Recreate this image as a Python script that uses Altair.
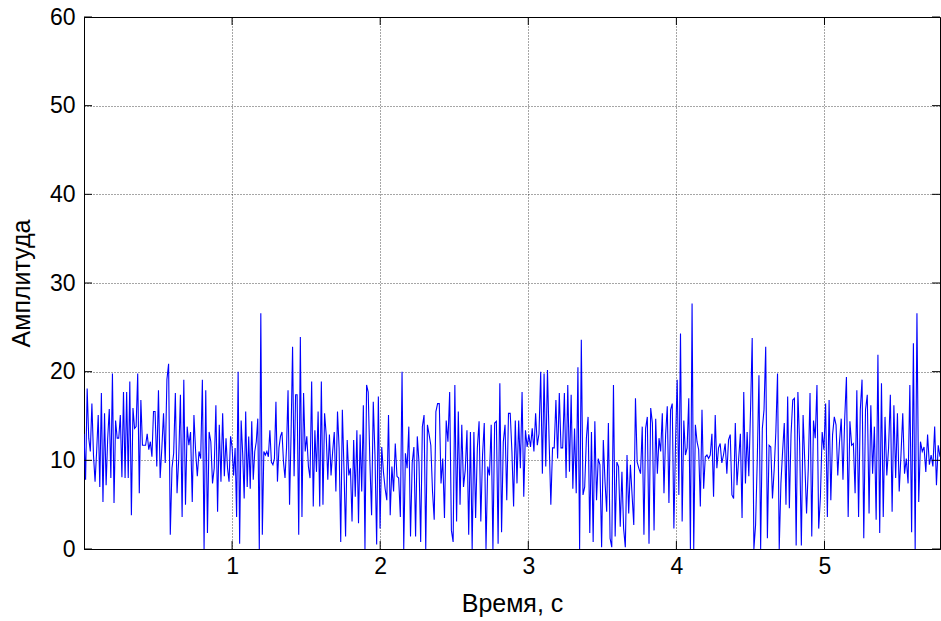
import altair as alt
import pandas as pd
import numpy as np

# Amplitude samples, in order of time (one list per stretch of the time axis)
seg1 = [13.0, 7.8, 18.1, 12.5, 11.0, 16.4, 10.6, 7.6, 11.0, 15.1, 7.0, 17.6, 5.3, 15.3, 7.2, 12.5, 15.8, 8.0,
        19.8, 5.2, 14.5, 12.5, 12.5, 15.1, 8.1, 17.7, 8.0, 17.7, 8.0, 18.9, 3.8, 15.9, 13.6, 13.8, 19.8, 6.3,
        16.8, 11.7, 11.7, 11.7, 13.0, 11.2, 12.1, 10.4, 15.5]
seg2 = [15.5, 9.3, 17.9, 8.0, 11.4, 15.3, 9.7, 19.1, 20.9, 1.6, 9.1, 10.8, 17.6, 6.3, 10.2, 17.4, 3.6, 19.1,
        5.0, 13.8, 11.7, 13.2, 5.3, 15.1, 11.0, 8.2, 11.0, 10.2, 19.1, 0.0, 17.9, 1.8, 13.2, 12.1, 7.4, 9.1,
        16.2, 4.2, 14.0, 7.6, 15.3, 8.2]
seg3 = [12.5, 9.1, 7.6, 12.7, 11.5, 8.3, 11.4, 3.6, 20.0, 0.6, 14.5, 10.8, 5.7, 15.5, 7.0, 12.7, 6.8, 14.4,
        7.8, 11.0, 12.1, 14.7, 0.0, 26.6, 1.6, 11.0, 10.6, 11.0, 10.4, 13.4, 9.8, 9.5, 10.2, 16.6, 7.6, 11.4,
        12.7, 13.2, 9.8, 8.0, 11.4, 17.9, 5.0, 12.9, 22.8, 8.2, 17.4]
seg4 = [17.4, 1.6, 23.9, 3.6, 17.6, 11.0, 12.7, 9.3, 8.0, 18.9, 4.8, 13.4, 8.7, 15.5, 4.8, 18.9, 5.0, 15.3,
        12.9, 7.8, 12.9, 8.3, 11.0, 13.2, 6.5, 15.5, 11.4, 0.8, 15.7, 9.1, 1.4, 12.3, 8.3, 9.1, 3.1, 12.3,
        5.9, 13.4, 2.9, 12.9, 6.5, 16.2, 0.0, 18.5]
seg5 = [17.7, 9.8, 3.8, 16.6, 10.6, 0.5, 17.2, 2.3, 11.5, 8.7, 6.8, 5.5, 15.1, 3.8, 9.3, 6.5, 11.9, 8.2,
        8.0, 3.6, 20.0, 0.0, 10.8, 9.1, 13.8, 1.4, 9.7, 11.5, 1.4, 12.7, 9.8, 0.8, 13.8, 15.1, 0.0, 14.0,
        12.9, 11.7, 6.5, 3.3, 15.5, 16.4]
seg6 = [16.4, 7.4, 10.2, 3.5, 14.5, 12.1, 17.7, 2.1, 0.8, 18.5, 3.1, 15.5, 5.0, 14.0, 7.0, 8.9, 13.4, 1.6,
        13.2, 0.0, 13.2, 3.5, 11.4, 14.4, 3.1, 10.6, 14.2, 0.0, 9.3, 8.3, 14.0, 0.0, 14.2, 14.4, 0.6, 18.7,
        1.9, 12.1, 14.0, 5.5, 15.3]
seg7 = [15.3, 11.0, 4.8, 14.5, 7.4, 14.5, 9.1, 17.7, 5.9, 13.4, 11.5, 12.9, 11.5, 13.6, 11.0, 15.3, 11.7,
        13.0, 20.0, 8.5, 19.8, 9.3, 20.2, 12.1, 5.0, 11.4, 11.4, 16.8, 10.2, 17.6, 11.4, 11.4, 17.6, 8.0,
        18.5, 8.7, 17.4, 6.8, 13.6, 6.3, 20.5, 0.0]
seg8 = [23.6, 6.1, 7.0, 12.5, 14.9, 1.8, 13.2, 0.8, 14.4, 5.5, 10.2, 9.5, 0.2, 12.3, 7.6, 4.2, 14.2, 1.2,
        0.2, 18.5, 1.4, 9.8, 9.3, 2.5, 8.7, 2.3, 0.2, 10.6, 4.0, 9.5, 6.1, 2.7, 17.0, 9.8, 9.1, 8.5, 13.8,
        1.6, 13.6, 14.9, 0.6, 15.9]
seg9 = [14.2, 2.1, 14.7, 8.5, 12.5, 11.0, 15.3, 6.3, 12.9, 16.1, 5.2, 15.7, 16.4, 2.3, 12.1, 19.1, 6.1,
        24.3, 3.1, 14.5, 10.6, 11.4, 17.0, 0.0, 27.7, 0.0, 14.0, 12.1, 11.2, 4.8, 15.7, 6.8, 10.4, 10.6,
        10.2, 10.6, 13.0, 5.9, 15.1, 9.1, 11.4, 11.9, 9.7]
seg10 = [10.6, 11.9, 8.5, 12.3, 12.9, 6.1, 5.7, 14.2, 7.2, 10.2, 13.0, 3.5, 17.7, 7.4, 13.2, 8.2, 15.5,
         23.8, 0.0, 2.7, 10.0, 19.6, 0.0, 13.6, 15.7, 22.8, 1.2, 11.7, 11.5, 5.7, 8.9, 13.2, 19.8, 0.0, 7.4,
         11.0, 14.2, 5.0, 17.2, 4.6, 12.9, 16.8]
seg11 = [17.0, 0.4, 17.7, 11.9, 0.4, 15.1, 9.7, 4.0, 9.1, 17.6, 1.4, 14.5, 12.5, 18.5, 2.3, 5.9, 13.2, 11.2,
         16.4, 3.6, 16.8, 5.5, 12.9, 14.9, 14.0, 8.3, 12.1, 14.7, 7.8, 14.7, 19.4, 3.6, 14.4, 11.7, 11.9,
         6.3, 17.9, 3.6, 15.7, 19.1, 1.2]
seg12 = [15.7, 17.4, 4.0, 16.2, 8.5, 13.8, 3.3, 21.9, 1.8, 18.7, 3.6, 14.9, 8.3, 11.4, 17.4, 4.2, 16.2,
         8.0, 15.3, 6.5, 10.6, 15.3, 8.5, 10.2, 7.4, 18.5, 1.9, 23.2, 0.0, 26.6, 5.3, 12.1, 11.0, 11.5, 8.7,
         12.9, 9.5, 10.6, 9.3, 13.8, 7.2, 11.7, 10.4]

segments = [seg1, seg2, seg3, seg4, seg5, seg6, seg7, seg8, seg9, seg10, seg11, seg12]
# time (s) at which each stretch begins, plus the end of the record
seg_start_times = [0.0, 0.480, 0.959, 1.439, 1.919, 2.399, 2.878, 3.358, 3.838, 4.318, 4.797, 5.277, 5.78]
x_ticks = [1, 2, 3, 4, 5]
y_ticks = [0, 10, 20, 30, 40, 50, 60]

times, amps = [], []
for k, seg in enumerate(segments):
    last = k == len(segments) - 1
    ts = np.linspace(seg_start_times[k], seg_start_times[k + 1], len(seg), endpoint=last)
    times.extend(ts.tolist())
    amps.extend(seg)
df = pd.DataFrame({"t": times, "a": amps})

t_start, t_end = seg_start_times[0], seg_start_times[-1]
W, H = 856, 532
FONT = "Liberation Sans"

xs = alt.Scale(domain=[t_start, t_end], nice=False, zero=False)
ys = alt.Scale(domain=[0, 60], nice=False)

line = alt.Chart(df).mark_line(color="#0000FF", strokeWidth=1.1, clip=True).encode(
    x=alt.X("t:Q", scale=xs, title="Время, с",
            axis=alt.Axis(values=x_ticks, format="d", grid=True, ticks=False, labelPadding=6,
                          titlePadding=13)),
    y=alt.Y("a:Q", scale=ys, title="Амплитуда",
            axis=alt.Axis(values=y_ticks, format="d", grid=True, ticks=False, labelPadding=9,
                          titlePadding=15)),
)

xt = pd.DataFrame({"t": x_ticks})
yt = pd.DataFrame({"a": y_ticks})
tick_b = alt.Chart(xt).mark_rule(color="black", strokeWidth=1).encode(
    x=alt.X("t:Q", scale=xs), y=alt.value(H), y2=alt.value(H - 8))
tick_t = alt.Chart(xt).mark_rule(color="black", strokeWidth=1).encode(
    x=alt.X("t:Q", scale=xs), y=alt.value(0), y2=alt.value(8))
tick_l = alt.Chart(yt).mark_rule(color="black", strokeWidth=1).encode(
    y=alt.Y("a:Q", scale=ys), x=alt.value(0), x2=alt.value(8))
tick_r = alt.Chart(yt).mark_rule(color="black", strokeWidth=1).encode(
    y=alt.Y("a:Q", scale=ys), x=alt.value(W), x2=alt.value(W - 8))

chart = alt.layer(line, tick_b, tick_t, tick_l, tick_r).properties(
    width=W, height=H,
    autosize=alt.AutoSizeParams(type="none"),
    padding={"left": 84, "top": 17, "right": 1, "bottom": 72},
    background="white",
).configure_view(
    stroke="black", strokeWidth=1
).configure_axis(
    labelFont=FONT, titleFont=FONT, labelFontSize=23, titleFontSize=25,
    labelColor="black", titleColor="black", titleFontWeight="normal",
    domainColor="black", domainWidth=1,
    gridColor="black", gridDash=[1, 2], gridOpacity=0.7, gridWidth=1,
)

chart.save("out.html", embed_options={"renderer": "svg", "actions": False})
